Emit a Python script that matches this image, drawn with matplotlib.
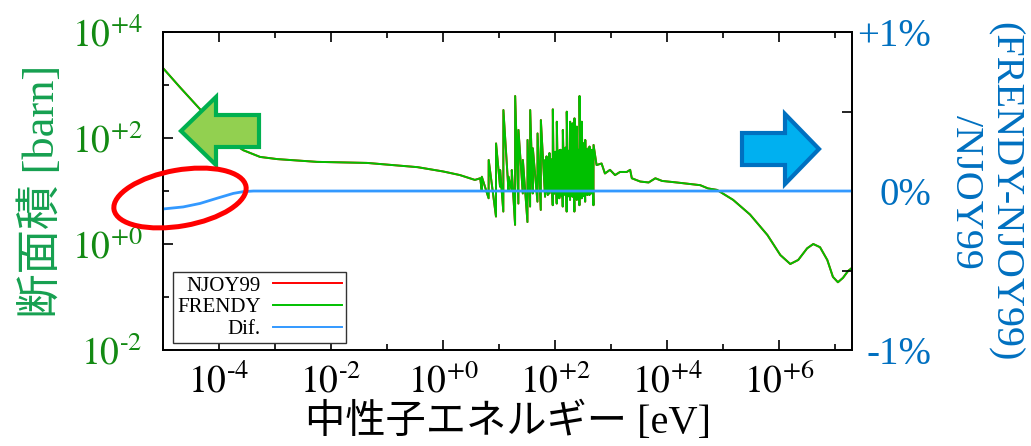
import matplotlib
matplotlib.use('Agg')
import matplotlib.pyplot as plt
from matplotlib.patches import FancyArrow, Ellipse
from matplotlib.lines import Line2D
from matplotlib.ticker import NullFormatter

plt.rcParams['mathtext.fontset'] = 'stix'
plt.rcParams['font.family'] = ['Liberation Serif', 'Noto Sans CJK JP']

# --- 断面積 (smooth part below the resonances) ---
low_E = [1e-5, 2.0e-5, 3.5e-5, 5.1e-5, 8.9e-5, 1.6e-4, 2.7e-4, 5.4e-4, 1.1e-3,
         5.6e-3, 0.044, 0.35, 1.0, 2.0, 3.0, 3.7, 4.6]
low_xs = [2089, 912, 479, 309, 141, 85, 59, 44, 40,
          35.5, 33.9, 28.2, 23.4, 20.0, 17.4, 16.2, 17.4]

# --- resonances: energy [eV], peak [barn], dip [barn] ---
res_E = [4.9, 6.5, 8.8, 10.4, 11.9, 14.7, 16.8, 19.3, 22.1, 26.5, 32.1, 35.8,
         39.9, 48.4, 55.5, 66.2, 74.0, 90.8, 107, 119, 137, 161, 185, 204,
         221, 244, 272, 299, 344, 410, 484]
res_peak = [18.6, 38.5, 79, 24.9, 337, 18.6, 24.9, 620, 142, 38.5, 92, 337,
            64, 122, 218, 38.5, 38.5, 348, 203, 59, 142, 314, 203, 189,
            235, 164, 620, 203, 92, 69, 74]
res_dip = [10.4, 7.3, 3.3, 12.1, 4.1, 10.4, 10.4, 2.3, 5.8, 9.0, 2.6, 5.1,
           9.0, 6.3, 4.4, 7.8, 8.4, 5.4, 5.8, 7.3, 5.1, 4.1, 6.8, 7.8,
           4.1, 6.8, 5.4, 7.3, 6.3, 8.4, 5.4]

# unresolved small resonances filling the dense band
fill_E = [70, 79, 84, 95, 100, 113, 125, 131, 146, 153, 170, 178, 193, 212,
          232, 254, 263, 285, 312, 325, 358, 375, 395, 430, 455]
fill_peak = [45, 52, 40, 48, 55, 42, 60, 47, 52, 66, 50, 58, 62, 55,
             70, 49, 60, 75, 58, 80, 62, 55, 65, 50, 60]
fill_dip = [9.5, 9.0, 10.0, 8.8, 9.5, 8.5, 9.2, 8.0, 9.6, 8.3, 9.0, 7.9, 9.4, 8.6,
            9.1, 8.2, 9.5, 8.7, 9.3, 8.0, 9.0, 8.4, 9.2, 8.8, 9.6]

# --- smooth part above the resonances ---
high_E = [550, 676, 776, 955, 1175, 1445, 1905, 2188, 2344, 3311, 4677, 6166,
          8128, 14790, 38900, 53700, 77600, 1.51e5, 3.02e5, 6.17e5, 1.05e6,
          1.58e6, 2.19e6, 3.16e6, 4.07e6, 5.37e6, 7.24e6, 9.12e6, 1.12e7,
          1.38e7, 1.70e7, 2.0e7]
high_xs = [30.9, 33.1, 21.4, 25.1, 20.0, 22.9, 22.9, 25.1, 17.4, 15.1, 14.5, 17.4,
           15.5, 14.5, 12.9, 11.2, 10.5, 6.8, 3.6, 1.48, 0.62,
           0.42, 0.50, 0.83, 1.0, 0.87, 0.50, 0.24, 0.19,
           0.23, 0.31, 0.355]

# --- 相対差 [%] ---
dif_E = [1e-5, 2.3e-5, 4.6e-5, 9.1e-5, 1.8e-4, 2.7e-4, 4.1e-4, 2e7]
dif_pct = [-0.113, -0.10, -0.078, -0.046, -0.015, -0.004, 0.0, 0.0]

xtick_pos = [1e-4, 1e-2, 1e0, 1e2, 1e4, 1e6]
xtick_labels = ['$10^{\\text{-}4}$', '$10^{\\text{-}2}$', '$10^{+0}$',
                '$10^{+2}$', '$10^{+4}$', '$10^{+6}$']
ytick_pos = [1e-2, 1e0, 1e2, 1e4]
ytick_labels = ['$10^{\\text{-}2}$', '$10^{+0}$', '$10^{+2}$', '$10^{+4}$']
y2tick_pos = [-1, 0, 1]
y2tick_labels = ['-1%', '0%', '+1%']

# build the cross-section curve
res = sorted(zip(res_E + fill_E, res_peak + fill_peak, res_dip + fill_dip))
E_all = list(low_E)
xs_all = list(low_xs)
for e, pk, dp in res:
    E_all += [e, e * 1.004]
    xs_all += [dp, pk]
E_all += high_E
xs_all += high_xs

green_tick = '#138A13'
green_lab = '#16A050'
blue_txt = '#0070C0'

fig = plt.figure(figsize=(10.31, 4.46), dpi=100)
ax = fig.add_axes([0.1581, 0.2152, 0.6683, 0.7130])
ax2 = ax.twinx()

ax.plot(E_all, xs_all, color='#FF0000', lw=1.4)
ax.plot(E_all, xs_all, color='#00C000', lw=1.4)
ax2.plot(dif_E, dif_pct, color='#3399FF', lw=2.0)

ax.set_xscale('log')
ax.set_yscale('log')
ax.set_xlim(1e-5, 2e7)
ax.set_ylim(1e-2, 1e4)
ax2.set_ylim(-1, 1)

ax.set_xticks(xtick_pos)
ax.set_xticklabels(xtick_labels)
ax.set_xticks([1e-5, 1e-3, 1e-1, 1e1, 1e3, 1e5, 1e7], minor=True)
ax.set_yticks(ytick_pos)
ax.set_yticklabels(ytick_labels)
ax.set_yticks([1e-1, 1e1, 1e3], minor=True)
ax.xaxis.set_minor_formatter(NullFormatter())
ax.yaxis.set_minor_formatter(NullFormatter())
ax.tick_params(which='both', direction='in', top=True, right=False, width=1.2)
ax.tick_params(which='major', length=7)
ax.tick_params(which='minor', length=4)
ax.tick_params(axis='x', labelsize=27, pad=10, colors='black')
ax.tick_params(axis='y', labelsize=27, pad=15, labelcolor=green_tick)

ax2.set_yticks(y2tick_pos)
ax2.set_yticklabels(y2tick_labels)
ax2.set_yticks([-0.5, 0.5], minor=True)
ax2.yaxis.set_minor_formatter(NullFormatter())
ax2.tick_params(which='both', direction='in', width=1.2)
ax2.tick_params(which='major', length=0)
ax2.tick_params(which='minor', length=7)
ax2.tick_params(axis='y', labelsize=28, pad=57, labelcolor=blue_txt)
for t in ax2.get_yticklabels():
    t.set_horizontalalignment('right')

for a in (ax, ax2):
    for s in a.spines.values():
        s.set_linewidth(1.3)
        s.set_color('black')

ax.set_xlabel('中性子エネルギー [eV]', fontsize=29, labelpad=2)
ax.set_ylabel('断面積 [barn]', fontsize=32, color=green_lab, labelpad=6)

W, H = 1031, 446
fig.text(985 / W, 1 - 192 / H, '(FRENDY-NJOY99)\n/NJOY99', fontsize=29,
         color=blue_txt, rotation=270, ha='center', va='center',
         multialignment='center', linespacing=1.05)

handles = [Line2D([], [], color='#FF0000', lw=1.4),
           Line2D([], [], color='#00C000', lw=1.4),
           Line2D([], [], color='#3399FF', lw=1.4)]
leg = ax2.legend(handles, ['NJOY99', 'FRENDY', 'Dif.'], loc='lower left',
                 bbox_to_anchor=(0.0145, 0.022), borderaxespad=0, fontsize=15,
                 markerfirst=False, handlelength=3.3, handletextpad=0.6,
                 labelspacing=0.1, fancybox=False, framealpha=1,
                 edgecolor='#333333', borderpad=0.2)
leg.get_frame().set_linewidth(1.0)
for t in leg.get_texts():
    t.set_ha('right')

# arrows and highlight ellipse (figure pixel layout)
fig.patches.append(FancyArrow(259 / W, 1 - 131 / H, -78 / W, 0, width=32 / H,
                              head_width=68 / H, head_length=35 / W,
                              length_includes_head=True, transform=fig.transFigure,
                              facecolor='#92D050', edgecolor='#00B050', lw=3))
fig.patches.append(FancyArrow(742 / W, 1 - 149 / H, 77 / W, 0, width=32 / H,
                              head_width=70 / H, head_length=34 / W,
                              length_includes_head=True, transform=fig.transFigure,
                              facecolor='#00B0F0', edgecolor='#0070C0', lw=3))
fig.patches.append(Ellipse((1.80, (H - 198) / 100), 1.34, 0.56, angle=10,
                           transform=fig.dpi_scale_trans, fill=False,
                           edgecolor='#FF0000', lw=3.6))

fig.savefig('out.png', dpi=100)
